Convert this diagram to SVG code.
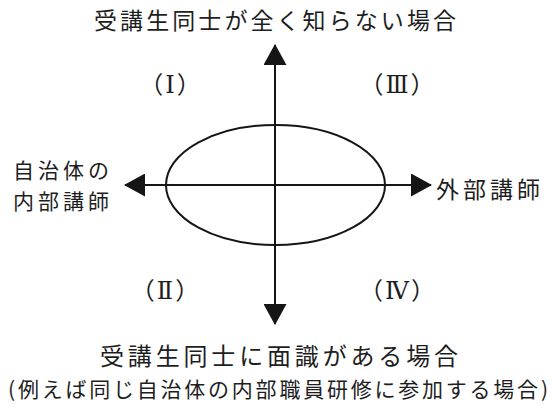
<svg xmlns="http://www.w3.org/2000/svg" width="553" height="409" viewBox="0 0 553 409">
  <defs>
    <style>
      .t { font-family: "Noto Sans CJK JP", "Noto Sans", sans-serif; fill: #1e1e1e; }
      .r { font-family: "DejaVu Serif", "Liberation Serif", "Noto Sans CJK JP", serif; fill: #1e1e1e; font-size: 24px; letter-spacing: 2px; }
      .ax { stroke: #151515; stroke-width: 2; fill: none; }
    </style>
    <marker id="ah" viewBox="0 0 21 23" refX="20" refY="11.5" markerWidth="21" markerHeight="23" markerUnits="userSpaceOnUse" orient="auto-start-reverse">
      <path d="M0,0 L21,11.5 L0,23 Z" fill="#151515"/>
    </marker>
  </defs>
  <rect width="553" height="409" fill="#ffffff"/>

  <g id="connectors">
    <line class="ax" x1="275" y1="324" x2="275" y2="45" marker-start="url(#ah)" marker-end="url(#ah)"/>
    <line class="ax" x1="125" y1="185" x2="431" y2="185" marker-start="url(#ah)" marker-end="url(#ah)"/>
  </g>

  <g id="ellipse">
    <ellipse cx="275.5" cy="185" rx="109.5" ry="60" fill="none" stroke="#151515" stroke-width="2"/>
  </g>

  <g id="top-label">
    <text class="t" x="275" y="29" font-size="23" text-anchor="middle" textLength="362" lengthAdjust="spacing">受講生同士が全く知らない場合</text>
  </g>

  <g id="left-label">
    <text class="t" x="13" y="178" font-size="21" textLength="96" lengthAdjust="spacing">自治体の</text>
    <text class="t" x="13" y="208.5" font-size="21" textLength="96" lengthAdjust="spacing">内部講師</text>
  </g>

  <g id="right-label">
    <text class="t" x="436" y="198" font-size="23" textLength="104" lengthAdjust="spacing">外部講師</text>
  </g>

  <g id="q1"><text class="r" x="171" y="93" text-anchor="middle">（Ⅰ）</text></g>
  <g id="q3"><text class="r" x="398" y="93" text-anchor="middle">（Ⅲ）</text></g>
  <g id="q2"><text class="r" x="166" y="299" text-anchor="middle">（Ⅱ）</text></g>
  <g id="q4"><text class="r" x="398" y="299" text-anchor="middle">（Ⅳ）</text></g>

  <g id="bottom-label">
    <text class="t" x="279" y="365" font-size="24" text-anchor="middle" textLength="358" lengthAdjust="spacing">受講生同士に面識がある場合</text>
    <text class="t" x="278" y="397" font-size="21" text-anchor="middle" textLength="540" lengthAdjust="spacing">(例えば同じ自治体の内部職員研修に参加する場合)</text>
  </g>
</svg>
